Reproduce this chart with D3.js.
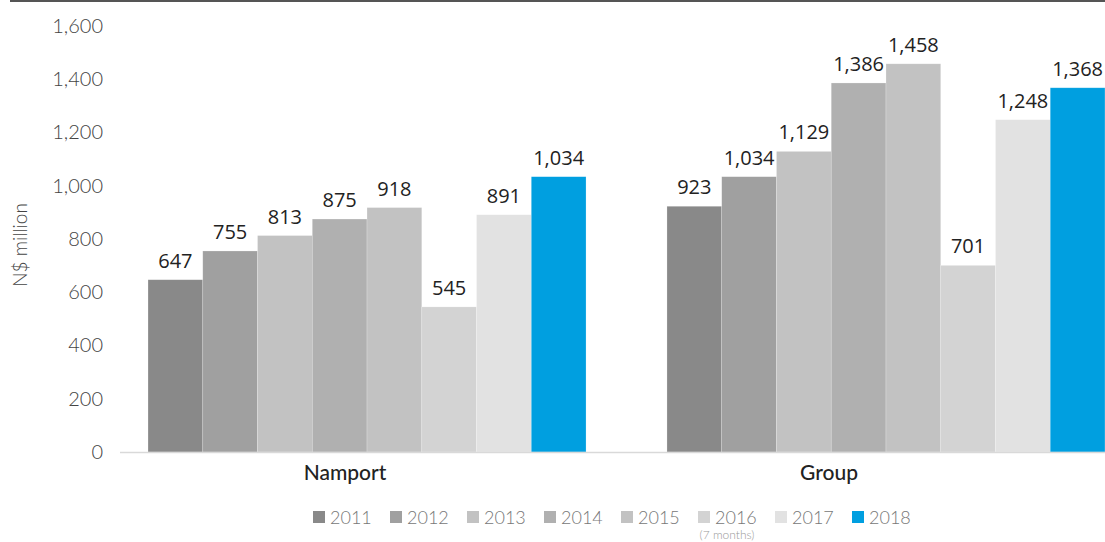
<!DOCTYPE html>
<html>
<head>
<meta charset="utf-8">
<script src="https://cdn.jsdelivr.net/npm/d3@7"></script>
<style>
  body { margin: 0; background: #fff; }
  svg { display: block; }
</style>
</head>
<body>
<div id="chart"></div>
<script>
// data
var categories = ["Namport", "Group"];
var years = ["2011", "2012", "2013", "2014", "2015", "2016", "2017", "2018"];
var namport = [647, 755, 813, 875, 918, 545, 891, 1034];
var group = [923, 1034, 1129, 1386, 1458, 701, 1248, 1368];
var yTicks = [0, 200, 400, 600, 800, 1000, 1200, 1400, 1600];
var colors = ["#898989", "#a0a0a0", "#c2c2c2", "#b0b0b0", "#c2c2c2", "#d3d3d3", "#e2e2e2", "#009fe0"];

var series = [namport, group];

var width = 1105, height = 542;

var svg = d3.select("#chart").append("svg")
    .attr("width", width)
    .attr("height", height);

// top rule
svg.append("line")
    .attr("x1", 10).attr("x2", width)
    .attr("y1", 1).attr("y2", 1)
    .style("stroke", "#555")
    .style("stroke-width", 2);

var y = d3.scaleLinear()
    .domain([0, 1600])
    .range([452, 26]);

var x0 = d3.scaleBand()
    .domain(categories)
    .range([120, 1133])
    .paddingInner(0.156)
    .paddingOuter(0.054);

var x1 = d3.scaleBand()
    .domain(years)
    .range([0, x0.bandwidth()]);

// y axis
var yAxis = d3.axisLeft(y)
    .tickValues(yTicks)
    .tickSize(0)
    .tickPadding(0)
    .tickFormat(d3.format(","));

var gy = svg.append("g")
    .attr("transform", "translate(103,0)")
    .call(yAxis);
gy.select(".domain").remove();
gy.selectAll("text")
    .style("font-family", "Lato, sans-serif")
    .style("font-weight", 300)
    .style("font-size", "20px")
    .style("fill", "#444");

svg.append("text")
    .attr("transform", "translate(27,245) rotate(-90)")
    .attr("text-anchor", "middle")
    .style("font-family", "Lato, sans-serif")
    .style("font-weight", 300)
    .style("font-size", "19px")
    .style("fill", "#444")
    .text("N$ million");

// bars
var groups = svg.selectAll(".cat")
    .data(categories)
    .enter().append("g")
    .attr("class", "cat")
    .attr("transform", function (d) { return "translate(" + x0(d) + ",0)"; });

groups.selectAll("rect")
    .data(function (d, i) { return series[i].map(function (v, j) { return { year: years[j], value: v, c: colors[j] }; }); })
    .enter().append("rect")
    .attr("x", function (d) { return x1(d.year); })
    .attr("y", function (d) { return y(d.value); })
    .attr("width", x1.bandwidth())
    .attr("height", function (d) { return y(0) - y(d.value); })
    .style("fill", function (d) { return d.c; })
    .style("stroke", "#fff")
    .style("stroke-opacity", 0.35)
    .style("stroke-width", 0.6);

groups.selectAll(".val")
    .data(function (d, i) { return series[i].map(function (v, j) { return { year: years[j], value: v }; }); })
    .enter().append("text")
    .attr("class", "val")
    .attr("x", function (d) { return x1(d.year) + x1.bandwidth() / 2; })
    .attr("y", function (d) { return y(d.value) - 12; })
    .attr("text-anchor", "middle")
    .style("font-family", "'Open Sans', sans-serif")
    .style("font-size", "20px")
    .style("fill", "#222")
    .text(function (d) { return d3.format(",")(d.value); });

// baseline
svg.append("line")
    .attr("x1", 120).attr("x2", width)
    .attr("y1", y(0) + 0.5).attr("y2", y(0) + 0.5)
    .style("stroke", "#d9d9d9")
    .style("stroke-width", 1.5);

// category labels (sit left of the band centre in the original)
var labelShift = { Namport: -22, Group: -57 };
svg.selectAll(".catlabel")
    .data(categories)
    .enter().append("text")
    .attr("class", "catlabel")
    .attr("x", function (d) { return x0(d) + x0.bandwidth() / 2 + labelShift[d]; })
    .attr("y", 480)
    .attr("text-anchor", "middle")
    .style("font-family", "Lato, sans-serif")
    .style("font-weight", 500)
    .style("font-size", "21px")
    .style("fill", "#222")
    .text(function (d) { return d; });

// legend
var legend = svg.selectAll(".leg")
    .data(years)
    .enter().append("g")
    .attr("class", "leg")
    .attr("transform", function (d, i) { return "translate(" + (313 + i * 77) + ",511)"; });

legend.append("rect")
    .attr("width", 12)
    .attr("height", 12)
    .style("fill", function (d, i) { return colors[i]; });

legend.append("text")
    .attr("x", 17)
    .attr("y", 13)
    .style("font-family", "Lato, sans-serif")
    .style("font-weight", 300)
    .style("font-size", "18px")
    .style("fill", "#777")
    .text(function (d) { return d; });

legend.filter(function (d) { return d === "2016"; })
    .append("text")
    .attr("x", 29)
    .attr("y", 28)
    .attr("text-anchor", "middle")
    .style("font-family", "Lato, sans-serif")
    .style("font-weight", 300)
    .style("font-size", "12px")
    .style("fill", "#999")
    .text("(7 months)");
</script>
</body>
</html>
